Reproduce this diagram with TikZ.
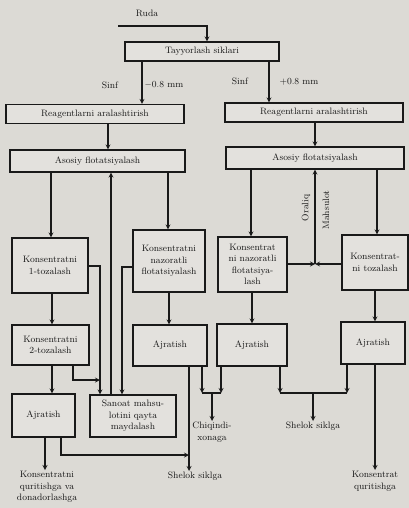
\documentclass[tikz,border=0pt]{standalone}
\usepackage{tikz}
\usetikzlibrary{arrows,positioning}
\definecolor{paper}{RGB}{220,218,213}
\definecolor{boxfill}{RGB}{227,225,221}
\definecolor{ink}{RGB}{25,25,25}

\begin{document}
\begin{tikzpicture}[
    x=1pt, y=-1pt,
    font=\fontsize{9.3}{11.5}\selectfont,
    box/.style={rectangle, draw=ink, line width=1.2pt, fill=boxfill, text=ink, align=center, inner sep=1pt},
    lbl/.style={text=ink, align=center, inner sep=1pt},
    arrow/.style={->, >=stealth, line width=1.2pt, draw=ink},
    line/.style={line width=1.2pt, draw=ink}
]
    \fill[paper] (0,0) rectangle (409,508);
    \useasboundingbox (0,0) rectangle (409,508);

    \node[lbl] (ruda) at (147,13) {Ruda};
    \coordinate (feed) at (118,26);
    \node[box, minimum width=154pt, minimum height=19pt] (tayyor) at (202,51.5) {Tayyorlash siklari};
    \node[lbl] (sinfL) at (110,85) {Sinf};
    \node[lbl] (mmL) at (164,85) {$-$0.8 mm};
    \node[lbl] (sinfR) at (240,81) {Sinf};
    \node[lbl] (mmR) at (299,82) {+0.8 mm};

    \node[box, minimum width=178pt, minimum height=19pt] (reagL) at (95,114) {Reagentlarni aralashtirish};
    \node[box, minimum width=178pt, minimum height=19pt] (reagR) at (314,112.5) {Reagentlarni aralashtirish};
    \node[box, minimum width=175pt, minimum height=22pt] (asosL) at (97.5,161) {Asosiy flotatsiyalash};
    \node[box, minimum width=178pt, minimum height=22pt] (asosR) at (315,158) {Asosiy flotatsiyalash};

    \node[box, minimum width=76pt, minimum height=55pt] (toz1) at (50,265.5) {Konsentratni\\1-tozalash};
    \node[box, minimum width=72pt, minimum height=62pt] (nazL) at (169,261) {Konsentratni\\nazoratli\\flotatsiyalash};
    \node[box, minimum width=69pt, minimum height=55pt] (nazR) at (252.5,264.5) {Konsentrat\\ni nazoratli\\flotatsiya-\\lash};
    \node[box, minimum width=66pt, minimum height=55pt] (tozR) at (375,262.5) {Konsentrat-\\ni tozalash};

    \node[box, minimum width=77pt, minimum height=40pt] (toz2) at (50.5,345) {Konsentratni\\2-tozalash};
    \node[box, minimum width=74pt, minimum height=41pt] (ajrM1) at (170,345.5) {Ajratish};
    \node[box, minimum width=70pt, minimum height=42pt] (ajrM2) at (252,345) {Ajratish};
    \node[box, minimum width=64pt, minimum height=42pt] (ajrR) at (373,343) {Ajratish};
    \node[box, minimum width=63pt, minimum height=43pt] (ajrL) at (43.5,415.5) {Ajratish};
    \node[box, minimum width=86pt, minimum height=42pt] (sanoat) at (133,416) {Sanoat mahsu-\\lotini qayta\\maydalash};

    \node[lbl, rotate=90] (oraliq) at (306,208) {Oraliq};
    \node[lbl, rotate=90] (mahsulot) at (326,210) {Mahsulot};

    \node[lbl, anchor=north] (outL) at (47,470) {Konsentratni\\quritishga va\\donadorlashga};
    \node[lbl, anchor=north] (shelokL) at (195,471) {Shelok siklga};
    \node[lbl, anchor=north] (chiq) at (212,421) {Chiqindi-\\xonaga};
    \node[lbl, anchor=north] (shelokR) at (313,421) {Shelok siklga};
    \node[lbl, anchor=north] (outR) at (375,470) {Konsentrat\\quritishga};

    \coordinate (j2toz) at (100,380);
    \coordinate (jshelL) at (189,455);
    \coordinate (jmid) at (315,264);
    \coordinate (jc1) at (202,393);
    \coordinate (jc2) at (221,393);
    \coordinate (jc) at (212,393);
    \coordinate (js1) at (280,393);
    \coordinate (js2) at (347,393);
    \coordinate (js) at (313,393);

    \draw[arrow] (feed) -| (tayyor.north -| 207,0);
    \draw[arrow] (tayyor.south -| 142,0) -- (reagL.north -| 142,0);
    \draw[arrow] (tayyor.south -| 269,0) -- (reagR.north -| 269,0);
    \draw[arrow] (reagL.south -| 108,0) -- (asosL.north -| 108,0);
    \draw[arrow] (reagR.south -| 315,0) -- (asosR.north -| 315,0);

    \draw[arrow] (asosL.south -| 51,0) -- (toz1.north -| 51,0);
    \draw[arrow] (asosL.south -| 168,0) -- (nazL.north -| 168,0);
    \draw[arrow] (sanoat.north -| 111,0) -- (asosL.south -| 111,0);
    \draw[arrow] (toz1.east |- 0,266) -| (sanoat.north -| 100,0);
    \draw[arrow] (nazL.west |- 0,267) -| (sanoat.north -| 122,0);
    \draw[arrow] (toz1.south -| 52,0) -- (toz2.north -| 52,0);
    \draw[arrow] (toz2.south -| 52,0) -- (ajrL.north -| 52,0);
    \draw[arrow] (toz2.south -| 73,0) |- (j2toz);
    \draw[arrow] (nazL.south -| 169,0) -- (ajrM1.north -| 169,0);

    \draw[arrow] (ajrL.south -| 45,0) -- (outL.north -| 45,0);
    \draw[arrow] (ajrL.south -| 61,0) |- (jshelL);
    \draw[arrow] (ajrM1.south -| 189,0) -- (shelokL.north -| 189,0);

    \draw[arrow] (asosR.south -| 251,0) -- (nazR.north -| 251,0);
    \draw[arrow] (asosR.south -| 377,0) -- (tozR.north -| 377,0);
    \draw[arrow] (nazR.east |- jmid) -- (jmid);
    \draw[arrow] (tozR.west |- jmid) -- (jmid);
    \draw[arrow] (jmid) -- (asosR.south -| jmid);
    \draw[arrow] (nazR.south -| 252,0) -- (ajrM2.north -| 252,0);
    \draw[arrow] (tozR.south -| 375,0) -- (ajrR.north -| 375,0);

    \draw[arrow] (ajrM1.south -| jc1) -- (jc1);
    \draw[arrow] (ajrM2.south -| jc2) -- (jc2);
    \draw[line] (jc1) -- (jc2);
    \draw[arrow] (jc) -- (chiq.north);
    \draw[arrow] (ajrM2.south -| js1) -- (js1);
    \draw[arrow] (ajrR.south -| js2) -- (js2);
    \draw[line] (js1) -- (js2);
    \draw[arrow] (js) -- (shelokR.north);
    \draw[arrow] (ajrR.south -| 375,0) -- (outR.north -| 375,0);
\end{tikzpicture}
\end{document}
